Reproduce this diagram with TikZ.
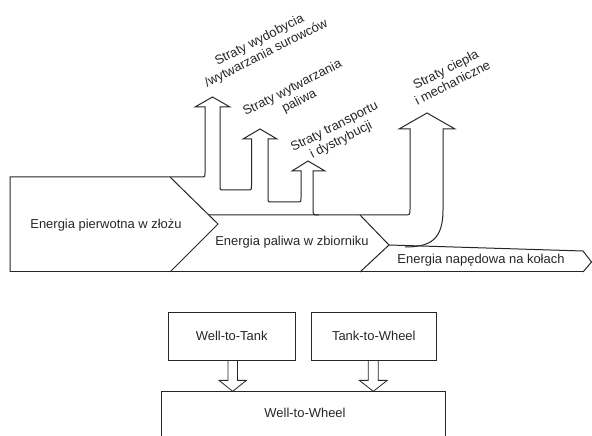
\documentclass[tikz,border=0pt]{standalone}
\usepackage{fontspec}
\setmainfont{Liberation Sans}
\usetikzlibrary{calc}
\begin{document}
\begin{tikzpicture}[x=1bp,y=-1bp,
  flow/.style={draw=black!85, line width=1bp, line join=miter},
  lbl/.style={font=\fontsize{13}{15}\selectfont, text=black!85, inner sep=0pt},
  rlbl/.style={lbl, align=center, rotate=27},
  boxnode/.style={draw=black!85, line width=0.8bp, inner sep=0pt, font=\fontsize{13}{15}\selectfont, text=black!85},
  hollow/.style={draw=black!85, line width=0.8bp, line join=miter}
]
\useasboundingbox (0,0) rectangle (592,436);

% ---------- Sankey flow ----------
% outer contour with the three upstream loss arrows
\draw[flow] (10,272) -- (10,177) -- (201,177) .. controls (205,177) .. (205,173)
  -- (205,107) -- (195,107) -- (212.5,97) -- (230,107) -- (220,107)
  -- (220,186) .. controls (220,190) .. (224,190) -- (247.5,190) .. controls (251.5,190) .. (251.5,186)
  -- (251.5,139) -- (243,139) -- (260,129) -- (277,139) -- (268,139)
  -- (268,198) .. controls (268,202) .. (272,202) -- (297,202) .. controls (301,202) .. (301,198)
  -- (301,171) -- (292,171) -- (308,161) -- (325,171) -- (313,171)
  -- (313,209) .. controls (313,215) .. (319,215);
% fuel block top and heat loss arrow
\draw[flow] (208.8,215) -- (404,215) .. controls (410,215) .. (410,209)
  -- (410,129) -- (399,129) -- (427,113) -- (455,129) -- (443,129)
  -- (443,210) .. controls (443,240) and (430,247) .. (405,247);
% drive energy block
\draw[flow] (389,245) -- (583,251) -- (591.5,262) -- (583,272);
% bottom line
\draw[flow] (10,272) -- (583,272);
% chevrons
\draw[flow] (170,177) -- (218,224) -- (170,272);
\draw[flow] (360,215) -- (389,245) -- (360,272);

% ---------- labels ----------
\node[lbl] (e1) at (106,225) {Energia pierwotna w złożu};
\node[lbl] (e2) at (292,242) {Energia paliwa w zbiorniku};
\node[lbl] (e3) at (481,260) {Energia napędowa na kołach};

\node[rlbl] (l1) at (263,47) {Straty wydobycia\\/wytwarzania surowców};
\node[rlbl] (l2) at (296,95) {Straty wytwarzania\\paliwa};
\node[rlbl] (l3) at (338,134) {Straty transportu\\i dystrybucji};
\node[rlbl] (l4) at (449,76) {Straty ciepła\\i mechaniczne};

% ---------- lower scheme ----------
\node[boxnode, minimum width=126.7bp, minimum height=47.3bp] (wtt) at (231.7,336.3) {Well-to-Tank};
\node[boxnode, minimum width=125.7bp, minimum height=47.3bp] (ttw) at (373.8,336.3) {Tank-to-Wheel};
\coordinate (wtwl) at (161,437);
\coordinate (wtwr) at (445,437);
\draw[hollow] (wtwl) -- (161,391) -- (445,391) -- (wtwr);
\node[lbl] (wtw) at (305,413) {Well-to-Wheel};

\draw[hollow] ($(wtt.south)+(-3.7,0)$) -- ++(0,20) -- ++(-9,0) -- ++(13.7,11) -- ++(13.7,-11) -- ++(-9,0) -- ++(0,-20);
\draw[hollow] ($(ttw.south)+(-5.5,0)$) -- ++(0,20) -- ++(-9,0) -- ++(14,11) -- ++(14,-11) -- ++(-9,0) -- ++(0,-20);
\end{tikzpicture}
\end{document}
